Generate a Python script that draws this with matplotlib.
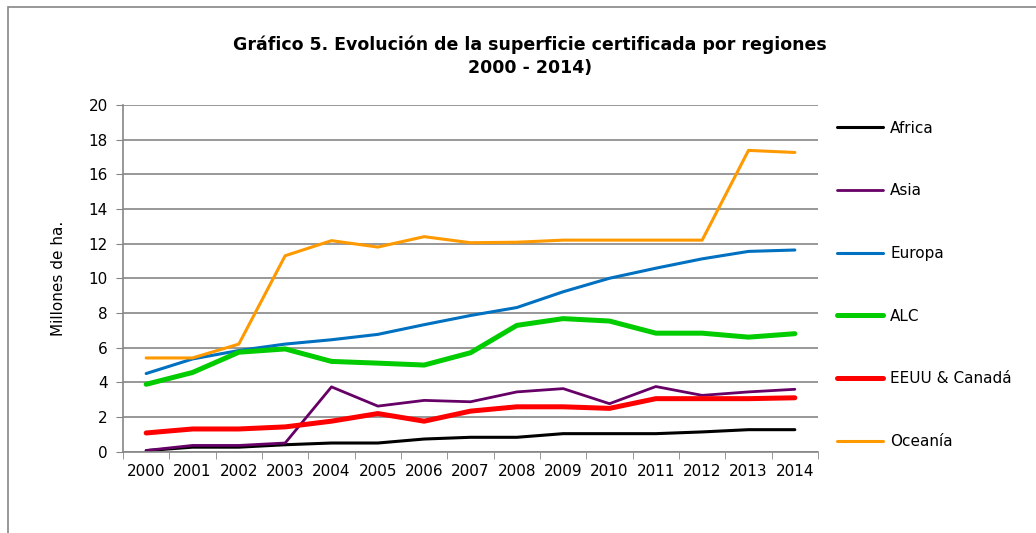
import matplotlib
matplotlib.use("Agg")
import matplotlib.pyplot as plt
from matplotlib.patches import Rectangle

years = list(range(2000, 2015))

africa = [0.05, 0.25, 0.25, 0.39, 0.49, 0.49, 0.72, 0.82, 0.82, 1.03, 1.03, 1.03, 1.13, 1.26, 1.26]
asia = [0.06, 0.35, 0.35, 0.49, 3.73, 2.62, 2.95, 2.87, 3.44, 3.63, 2.76, 3.75, 3.24, 3.44, 3.59]
europa = [4.5, 5.34, 5.83, 6.2, 6.45, 6.76, 7.32, 7.85, 8.31, 9.22, 10.0, 10.58, 11.12, 11.55, 11.63]
alc = [3.88, 4.56, 5.73, 5.92, 5.2, 5.1, 4.99, 5.7, 7.28, 7.67, 7.53, 6.83, 6.83, 6.6, 6.8]
eeuu = [1.07, 1.3, 1.3, 1.42, 1.75, 2.19, 1.75, 2.33, 2.58, 2.58, 2.49, 3.05, 3.05, 3.05, 3.1]
oceania = [5.4, 5.4, 6.2, 11.3, 12.17, 11.8, 12.4, 12.05, 12.08, 12.2, 12.2, 12.2, 12.2, 17.38, 17.26]

series = [
    ("Africa", africa, "#000000", 2.2),
    ("Asia", asia, "#660066", 2.0),
    ("Europa", europa, "#0070C0", 2.2),
    ("ALC", alc, "#00CC00", 3.6),
    ("EEUU & Canadá", eeuu, "#FF0000", 3.6),
    ("Oceanía", oceania, "#FF9900", 2.2),
]

plt.rcParams['font.family'] = ['DejaVu Sans']

fig = plt.figure(figsize=(10.36, 5.33), dpi=100)
ax = fig.add_axes([123 / 1036, 1 - 451.5 / 533, 695 / 1036, 346.5 / 533])

# marco del gráfico
fig.patches.append(Rectangle((8 / 1036, -0.1), 1.2, 1 - 7 / 533 + 0.1, transform=fig.transFigure,
                             fill=False, edgecolor="#868686", linewidth=1.2))

for name, vals, color, lw in series:
    ax.plot(years, vals, color=color, linewidth=lw, label=name, solid_capstyle="round")

ax.set_xlim(1999.5, 2014.5)
ax.set_ylim(0, 20)
ax.set_yticks(range(0, 21, 2))
ax.set_xticks(years)
ax.set_xticklabels([str(y) for y in years], fontsize=11)
ax.set_xticks([y - 0.5 for y in years] + [2014.5], minor=True)
ax.tick_params(axis="x", which="major", length=0, pad=9)
ax.tick_params(axis="x", which="minor", length=5, color="#868686")
ax.tick_params(axis="y", length=5, color="#868686", labelsize=11, pad=6)
ax.grid(axis="y", color="#868686", linewidth=1.2)
ax.set_axisbelow(True)
for s in ["top", "right"]:
    ax.spines[s].set_visible(False)
for s in ["left", "bottom"]:
    ax.spines[s].set_color("#868686")
    ax.spines[s].set_linewidth(1.2)

ax.set_ylabel("Millones de ha.", fontsize=11, labelpad=16)

fig.text(530 / 1036, 1 - 56 / 533, "Gráfico 5. Evolución de la superficie certificada por regiones\n2000 - 2014)",
         ha="center", va="center", fontsize=12.5, fontweight="bold", linespacing=1.35)

fig.legend(loc="upper left", bbox_to_anchor=(823 / 1036, 1 - 107 / 533), frameon=False,
           fontsize=11, handlelength=3.0, handletextpad=0.5, labelspacing=3.12)

fig.savefig("out.png", dpi=100)
